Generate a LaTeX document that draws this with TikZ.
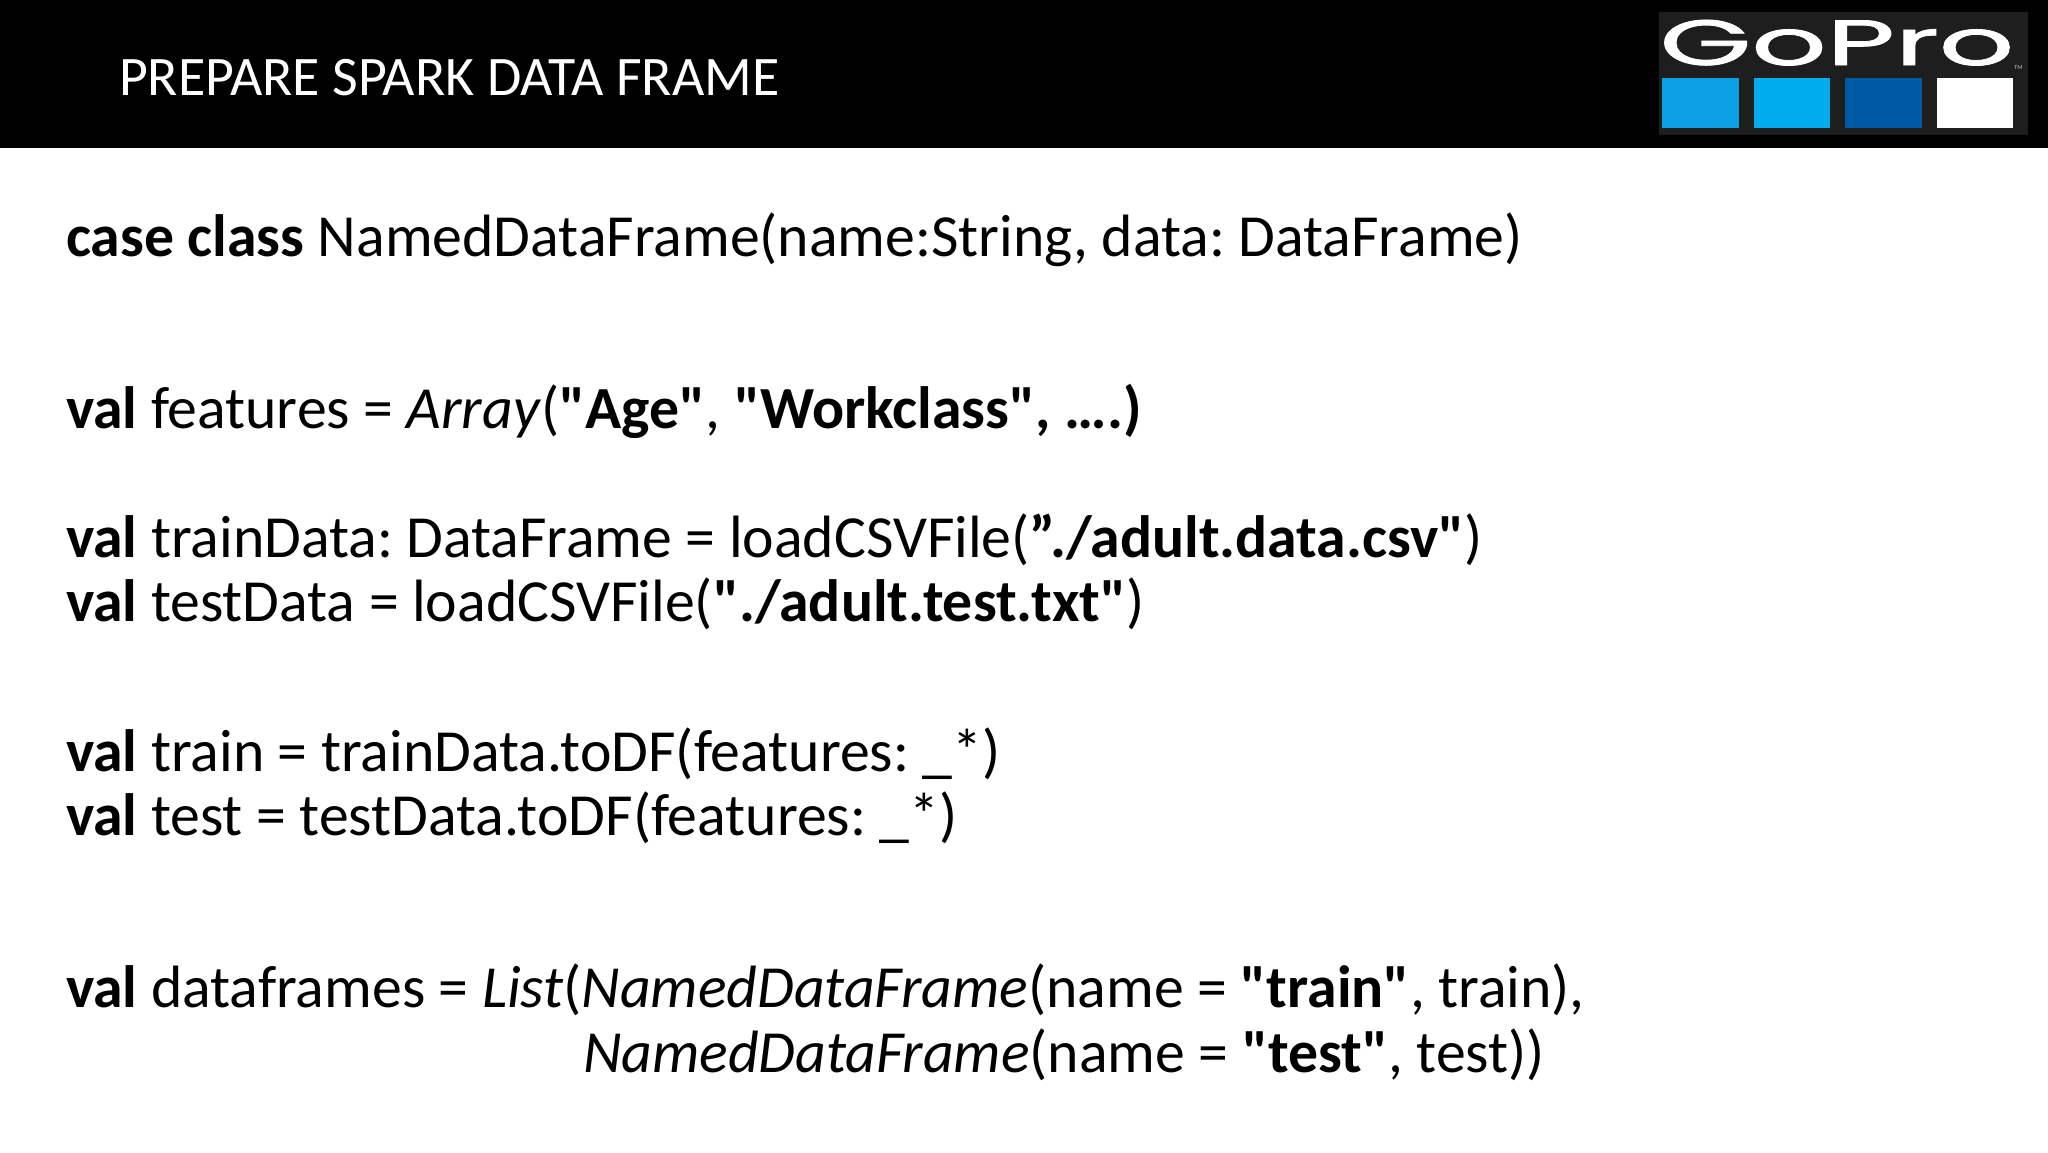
\documentclass[tikz,border=0pt]{standalone}
\usepackage{fontspec}
\setmainfont{Carlito}[Ligatures=TeXOff]
\newfontfamily\logofont{Poppins}[FakeBold=1.2]
\definecolor{logobg}{HTML}{1E1E1E}
\definecolor{sqa}{HTML}{0CA0E6}
\definecolor{sqb}{HTML}{00ABEE}
\definecolor{sqc}{HTML}{0059A5}
\tikzset{
  code/.style={anchor=base west,inner sep=0pt,outer sep=0pt,font=\frenchspacing\fontsize{29.87pt}{34pt}\selectfont,text=black},
  titletext/.style={anchor=base west,inner sep=0pt,outer sep=0pt,font=\frenchspacing\fontsize{27.9pt}{32pt}\selectfont,text=white}
}
\begin{document}
\begin{tikzpicture}[x=0.5pt,y=-0.5pt]
\useasboundingbox (0,0) rectangle (2048,1152);
\fill[white] (0,0) rectangle (2048,1152);
\fill[black] (0,0) rectangle (2048,148);
\fill[logobg] (1659,12) rectangle (2028,135);
\fill[sqa] (1662,78) rectangle (1739,128);
\fill[sqb] (1754,78) rectangle (1830,128);
\fill[sqc] (1845,78) rectangle (1922,128);
\fill[white] (1937,78) rectangle (2013,128);
\node[anchor=base west,inner sep=0pt,text=white,xscale=1.84] (logo) at (1659,65) {\logofont\fontsize{32pt}{36pt}\selectfont GoPro};
\node[anchor=base west,inner sep=0pt,text=white!80!black] (tm) at (2014,69) {\fontsize{3pt}{4pt}\selectfont TM};
\node[titletext] (title) at (119,95) {PREPARE SPARK DATA FRAME};
\node[code] (l1) at (66,256) {\textbf{case class} NamedDataFrame(name:String, data: DataFrame)};
\node[code] (l2) at (66,428) {\textbf{val} features = \textit{Array}(\textbf{"Age"}, \textbf{"Workclass", ….)}};
\node[code] (l3) at (66,557) {\textbf{val} trainData: DataFrame = loadCSVFile(\textbf{”./adult.data.csv"})};
\node[code] (l4) at (66,621) {\textbf{val} testData = loadCSVFile(\textbf{"./adult.test.txt"})};
\node[code] (l5) at (66,771) {\textbf{val} train = trainData.toDF(features: \_*)};
\node[code] (l6) at (66,835) {\textbf{val} test = testData.toDF(features: \_*)};
\node[code] (l7) at (66,1007) {\textbf{val} dataframes = \textit{List}(\textit{NamedDataFrame}(name = \textbf{"train"}, train),};
\node[code] (l8) at (583,1072) {\textit{NamedDataFrame}(name = \textbf{"test"}, test))};
\end{tikzpicture}
\end{document}
